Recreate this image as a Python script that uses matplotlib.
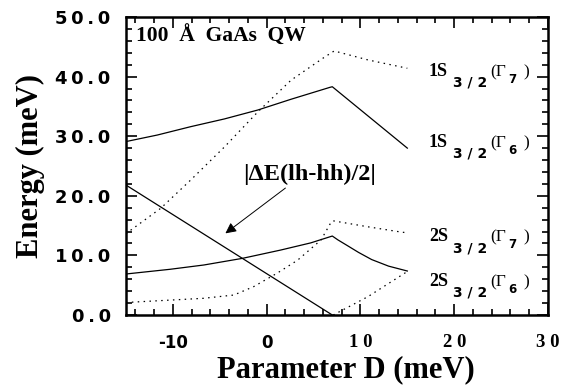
import matplotlib
matplotlib.use("Agg")
import matplotlib.pyplot as plt
from matplotlib.ticker import MultipleLocator, FuncFormatter
from matplotlib.transforms import offset_copy

# --- data (D in meV, E in meV) ---
d_1s_g6 = [-15.0, -11.65, -8.1, -4.5, -0.93, 2.6, 6.75, 7.0, 15.0]
e_1s_g6 = [29.1, 30.2, 31.6, 32.9, 34.4, 36.2, 38.2, 38.3, 28.0]

d_1s_g7 = [-15.0, -14.7, -11.3, -8.1, -4.5, -0.93, 2.6, 6.2, 7.2, 10.8, 15.0]
e_1s_g7 = [13.6, 14.0, 17.9, 22.65, 28.2, 34.1, 39.4, 43.3, 44.3, 42.8, 41.4]

d_dlh = [-15.0, 7.0]
e_dlh = [21.8, 0.0]

d_2s_solid = [-15.0, -10.3, -6.7, -2.6, 1.5, 4.7, 7.0, 7.6, 8.6, 9.8, 11.2, 13.0, 15.0]
e_2s_solid = [6.88, 7.67, 8.39, 9.5, 10.9, 12.1, 13.25, 12.6, 11.65, 10.5, 9.3, 8.2, 7.38]

d_2s_dot = [-15.0, -10.3, -6.75, -3.5, -1.4, 1.1, 3.3, 5.8, 6.9, 7.1, 10.8, 14.4, 15.0]
e_2s_dot = [2.1, 2.5, 2.8, 3.35, 4.75, 7.0, 9.2, 12.6, 15.65, 15.8, 14.8, 13.9, 13.8]

d_low_dot = [7.1, 10.8, 15.0]
e_low_dot = [0.0, 3.08, 7.3]

xticks = [-10, 0, 10, 20, 30]
xticklabels = ["-10", "0", "1 0", "2 0", "3 0"]

SERIF = "Liberation Serif"
SANS = "DejaVu Sans"

fig = plt.figure(figsize=(5.74, 3.9), dpi=100)
ax = fig.add_axes([0.2195, 0.1923, 0.7352, 0.7641])

dot = (0, (1.2, 3.5))
ax.plot(d_1s_g6, e_1s_g6, color="black", lw=0.9)
ax.plot(d_1s_g7, e_1s_g7, color="black", lw=0.9, ls=dot)
ax.plot(d_dlh, e_dlh, color="black", lw=0.9)
ax.plot(d_2s_solid, e_2s_solid, color="black", lw=0.9)
ax.plot(d_2s_dot, e_2s_dot, color="black", lw=0.9, ls=dot)
ax.plot(d_low_dot, e_low_dot, color="black", lw=0.9, ls=dot)

ax.set_xlim(-15, 30)
ax.set_ylim(0, 50)

ax.xaxis.set_major_locator(MultipleLocator(10))
ax.xaxis.set_minor_locator(MultipleLocator(2))
ax.yaxis.set_major_locator(MultipleLocator(10))
ax.yaxis.set_minor_locator(MultipleLocator(2))
# wide-set digits like the original
ax.yaxis.set_major_formatter(FuncFormatter(lambda v, p: "\u2009".join("%.1f" % v)))
ax.set_xticks(xticks)
ax.set_xticklabels(xticklabels)

ax.tick_params(which="both", direction="in", top=True, right=True, width=1.2)
ax.tick_params(which="major", length=8)
ax.tick_params(which="minor", length=4.5)
ax.tick_params(axis="y", which="major", pad=11)
ax.tick_params(axis="x", which="major", pad=14)
for s in ax.spines.values():
    s.set_linewidth(1.8)

for lbl in ax.get_yticklabels():
    lbl.set_fontfamily(SANS)
    lbl.set_fontweight("bold")
    lbl.set_fontsize(13)
for lbl in ax.get_xticklabels():
    t = lbl.get_text()
    lbl.set_fontfamily(SANS if t in ("-10", "0") else SERIF)
    lbl.set_fontweight("bold")
    lbl.set_fontsize(12 if t in ("-10", "0") else 13.5)

ax.set_xlabel("Parameter D (meV)", fontsize=22, fontweight="bold", family=SERIF)
ax.xaxis.set_label_coords(0.52, -0.135)
ax.set_ylabel("Energy (meV)", fontsize=22, fontweight="bold", family=SERIF)
ax.yaxis.set_label_coords(-0.192, 0.5)

ax.text(-13.9, 45.8, "100  Å  GaAs  QW", fontsize=15.5, fontweight="bold",
        family=SERIF, va="baseline", ha="left")
ax.text(-2.55, 22.6, "|ΔE(lh-hh)/2|", fontsize=17.5, fontweight="bold",
        family=SERIF, va="baseline", ha="left")
ax.annotate("", xy=(-4.4, 13.7), xytext=(2.0, 21.3),
            arrowprops=dict(arrowstyle="-|>", color="black", lw=0.7,
                            mutation_scale=16, shrinkA=0, shrinkB=0))

# state labels on the right
labels = [("1S", "7", 40.1), ("1S", "6", 28.2), ("2S", "7", 12.4), ("2S", "6", 4.87)]
x0 = 17.3
for main, gam, y in labels:
    def put(s, dx, dy, **kw):
        tr = offset_copy(ax.transData, fig=fig, x=dx, y=dy, units="points")
        ax.text(x0, y, s, transform=tr, ha="left", va="baseline", **kw)
    put(main, 0, 0, fontsize=13, fontweight="bold", family=SERIF)
    put("3 / 2", 17.3, -7.9, fontsize=10, fontweight="bold", family=SANS)
    put("(Γ", 44.5, 0, fontsize=12.5, family=SERIF)
    put(gam, 57.0, -5, fontsize=8.5, fontweight="bold", family=SANS)
    put(")", 68.4, 0, fontsize=12.5, family=SERIF)

fig.savefig("out.png", dpi=100)
